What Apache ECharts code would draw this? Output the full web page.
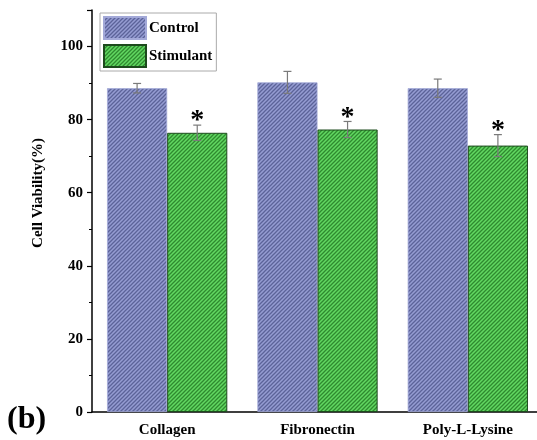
<!DOCTYPE html>
<html>
<head>
<meta charset="utf-8">
<script src="https://cdn.jsdelivr.net/npm/echarts@6/dist/echarts.min.js"></script>
<style>
  html, body { margin: 0; padding: 0; background: #fff; }
  #chart { width: 537px; height: 440px; }
</style>
</head>
<body>
<div id="chart"></div>
<script>
// Substrate groups and measured viability (mean and SD, %)
const categories = ['Collagen', 'Fibronectin', 'Poly-L-Lysine'];
const seriesNames = ['Control', 'Stimulant'];
const controlMean = [88.6, 90.2, 88.6];
const controlErr = [1.3, 3.0, 2.5];
const stimulantMean = [76.4, 77.3, 72.9];
const stimulantErr = [2.1, 2.2, 3.0];
const significant = [true, true, true];
const yTicks = [0, 20, 40, 60, 80, 100];

const FONT = '"Liberation Serif", "Times New Roman", serif';

// Diagonal hatch fill used for the bars
function hatch(base, line, period) {
  const c = document.createElement('canvas');
  c.width = period; c.height = period;
  const g = c.getContext('2d');
  g.fillStyle = base;
  g.fillRect(0, 0, period, period);
  g.strokeStyle = line;
  g.lineWidth = 1.3;
  g.beginPath();
  g.moveTo(-1, period + 1); g.lineTo(period + 1, -1);
  g.moveTo(-1, 1); g.lineTo(1, -1);
  g.moveTo(period - 1, period + 1); g.lineTo(period + 1, period - 1);
  g.stroke();
  return { image: c, repeat: 'repeat' };
}

const controlFill = hatch('#959cd2', '#5c6399', 4);
const stimulantFill = hatch('#62d862', '#2f8a2f', 4);

const means = [controlMean, stimulantMean];
const errs = [controlErr, stimulantErr];

const errData = [];
for (let s = 0; s < 2; s++) {
  for (let i = 0; i < categories.length; i++) {
    errData.push([i, means[s][i], errs[s][i], s, (s === 1 && significant[i]) ? 1 : 0]);
  }
}

const chart = echarts.init(document.getElementById('chart'), null, { renderer: 'canvas' });

chart.setOption({
  animation: false,
  backgroundColor: '#fff',
  grid: { left: 92, top: 10, bottom: 28, width: 451, containLabel: false, outerBoundsMode: 'none' },
  legend: {
    left: 100, top: 13,
    orient: 'vertical',
    data: seriesNames,
    itemWidth: 42, itemHeight: 22, itemGap: 4,
    padding: [3, 4, 3, 3],
    borderColor: '#aaa', borderWidth: 1,
    textStyle: { fontFamily: FONT, fontWeight: 'bold', fontSize: 15, color: '#000', padding: [0, 0, 0, -2] },
    icon: 'rect'
  },
  xAxis: {
    type: 'category',
    data: categories,
    axisLine: { lineStyle: { color: '#000', width: 1.5 } },
    axisTick: { show: false },
    axisLabel: { fontFamily: FONT, fontWeight: 'bold', fontSize: 15, color: '#000', margin: 11 }
  },
  yAxis: {
    type: 'value',
    min: 0, max: 110, interval: 20,
    axisLine: { show: true, lineStyle: { color: '#000', width: 1.5 } },
    axisTick: { show: true, length: 5, inside: false, lineStyle: { color: '#000', width: 1.2 } },
    minorTick: { show: true, splitNumber: 2, length: 3, lineStyle: { color: '#000', width: 1 } },
    splitLine: { show: false },
    axisLabel: {
      fontFamily: FONT, fontWeight: 'bold', fontSize: 15, color: '#000', margin: 9,
      showMaxLabel: false,
      formatter: v => (yTicks.indexOf(v) >= 0 ? String(v) : '')
    }
  },
  series: [
    {
      name: 'Control', type: 'bar',
      data: controlMean,
      barWidth: '40%', barGap: '0%', barCategoryGap: '20%',
      itemStyle: { color: controlFill, borderColor: '#a3a9d8', borderWidth: 0.8 }
    },
    {
      name: 'Stimulant', type: 'bar',
      data: stimulantMean,
      barWidth: '40%', barGap: '0%', barCategoryGap: '20%',
      itemStyle: { color: stimulantFill, borderColor: '#1d4a1d', borderWidth: 1 }
    },
    {
      name: 'errors', type: 'custom',
      data: errData,
      z: 10,
      silent: true,
      renderItem: function (params, api) {
        const i = api.value(0), m = api.value(1), e = api.value(2), s = api.value(3), star = api.value(4);
        const band = api.size([1, 0])[0];
        const barW = band * 0.4;
        const off = (s === 0 ? -0.5 : 0.5) * barW;
        const top = api.coord([i, m + e]);
        const bot = api.coord([i, m - e]);
        const x = top[0] + off;
        const cap = 4;
        const st = { stroke: '#7a7a7a', lineWidth: 1.2 };
        const children = [
          { type: 'line', shape: { x1: x, y1: top[1], x2: x, y2: bot[1] }, style: st },
          { type: 'line', shape: { x1: x - cap, y1: top[1], x2: x + cap, y2: top[1] }, style: st },
          { type: 'line', shape: { x1: x - cap, y1: bot[1], x2: x + cap, y2: bot[1] }, style: st }
        ];
        if (star) {
          children.push({
            type: 'text',
            style: {
              text: '*', x: x, y: top[1] + 10,
              align: 'center', verticalAlign: 'bottom',
              font: 'bold 28px ' + FONT, fill: '#000'
            }
          });
        }
        return { type: 'group', children: children };
      }
    }
  ],
  graphic: [
    {
      type: 'text', x: 38, y: 193, rotation: Math.PI / 2,
      style: {
        text: 'Cell Viability(%)', font: 'bold 15px ' + FONT, fill: '#000',
        align: 'center', verticalAlign: 'middle'
      }
    },
    {
      type: 'text', left: 7, top: 404,
      style: { text: '(b)', font: 'bold 32px ' + FONT, fill: '#000' }
    }
  ]
});
</script>
</body>
</html>
